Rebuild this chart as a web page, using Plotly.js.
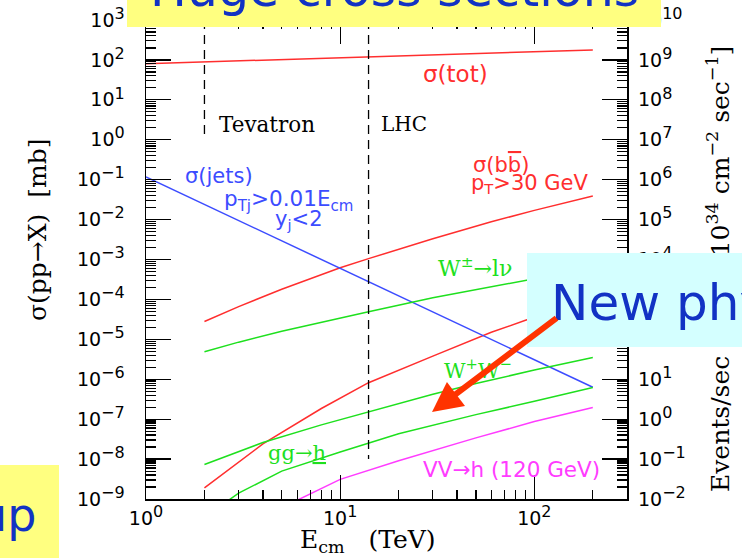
<!DOCTYPE html>
<html>
<head>
<meta charset="utf-8">
<script src="https://cdn.plot.ly/plotly-3.0.1.min.js"></script>
<style>html,body{margin:0;padding:0;background:#fff}</style>
</head>
<body>
<div id="chart" style="width:742px;height:558px"></div>
<script>
// Cross sections sigma(pp -> X) in mb versus collider energy E_cm in TeV
const E_tot = [1, 2, 5, 10, 14, 20, 50, 100, 200];
const sig_tot = [80, 89, 102, 114, 120, 127, 145, 162, 178];

const E_bb = [2, 3, 5, 10, 14, 30, 60, 100, 200];
const sig_bb = [2.8e-5, 6.6e-5, 1.8e-4, 6.2e-4, 1.05e-3, 3.3e-3, 8.8e-3, 1.7e-2, 3.9e-2];

const E_tt = [2, 4, 8, 14, 30, 60, 90, 200];
const sig_tt = [1.9e-9, 2.4e-8, 1.85e-7, 8.2e-7, 3.8e-6, 1.5e-5, 3.0e-5, 1.0e-4];

const E_jets = [1, 2, 14, 50, 200];
const sig_jets = [0.117, 0.024, 2.8e-4, 1.5e-5, 6.3e-7];

const E_W = [2, 3, 5, 10, 14, 30, 60, 92, 200];
const sig_W = [4.9e-6, 8.5e-6, 1.6e-5, 3.5e-5, 4.9e-5, 1.1e-4, 2.1e-4, 3.1e-4, 6.2e-4];

const E_WW = [2, 4, 8, 15, 30, 50, 100, 200];
const sig_WW = [7.3e-9, 2.6e-8, 7.2e-8, 1.7e-7, 4.2e-7, 7.8e-7, 1.7e-6, 3.5e-6];

const E_ggh = [2, 3, 5, 10, 20, 50, 100, 200];
const sig_ggh = [3.5e-10, 1.4e-9, 5.0e-9, 1.5e-8, 4.3e-8, 1.3e-7, 2.8e-7, 6.2e-7];

const E_VVh = [4, 6, 10, 20, 50, 100, 200];
const sig_VVh = [2.8e-10, 9.3e-10, 3.1e-9, 9.1e-9, 3.4e-8, 8.7e-8, 1.95e-7];

// collider energies, drawn as dashed verticals
const colliders = ['Tevatron', 'LHC'];
const colliderE = [2, 14];
const colliderTop = [1e3, 1e3];
const colliderLow = [1.15, 1e-8];

// event rate per second = sigma[mb] * 1e-27 cm^2 * 1e34 cm^-2 s^-1
const lumiFactor = 1e7;

// decade exponents for the tick labels
const sigmaExp = [-9, -8, -7, -6, -5, -4, -3, -2, -1, 0, 1, 2, 3];
const rateExp = [-2, -1, 0, 1, 2, 3, 4, 5, 6, 7, 8, 9, 10];
const energyExp = [0, 1, 2];
const E_max = 300;

const SERIF = 'DejaVu Serif', SANS = 'DejaVu Sans';
const RED = '#ff2e2e', BLUE = '#3c4cff', GREEN = '#1ee01e', MAGENTA = '#ff3cff';
const INK = '#1232c4';

const W = 742, H = 558;
const M = {l: 146, r: 115, t: 20, b: 59};
const pw = W - M.l - M.r, ph = H - M.t - M.b;
const px = X => (X - M.l) / pw;
const py = Y => 1 - (Y - M.t) / ph;

const powLabel = p => '10<sup><span style="font-size:16px">' + (p < 0 ? '\u2212' + (-p) : p) + '</span></sup>';
function minorTicks(lo, hi, max) {
  const v = [];
  for (let p = lo; p <= hi; p++) for (let m = 2; m <= 9; m++) {
    const t = m * Math.pow(10, p);
    if (t < max) v.push(t);
  }
  return v;
}

function curve(x, y, color) {
  return {x, y, type: 'scatter', mode: 'lines', line: {color, width: 1.5}, hoverinfo: 'skip'};
}

const traces = [
  curve(E_tot, sig_tot, RED),
  curve(E_bb, sig_bb, RED),
  curve(E_tt, sig_tt, RED),
  curve(E_jets, sig_jets, BLUE),
  curve(E_W, sig_W, GREEN),
  curve(E_WW, sig_WW, GREEN),
  curve(E_ggh, sig_ggh, GREEN),
  curve(E_VVh, sig_VVh, MAGENTA)
];
colliders.forEach((name, i) => traces.push({
  x: [colliderE[i], colliderE[i]], y: [colliderTop[i], colliderLow[i]],
  type: 'scatter', mode: 'lines', name,
  line: {color: 'black', width: 1.3, dash: '9px,6px'}, hoverinfo: 'skip'
}));
// total rate on the right-hand axis (carries the events/sec scale)
traces.push({
  x: E_tot, y: sig_tot.map(s => s * lumiFactor), yaxis: 'y2',
  type: 'scatter', mode: 'lines', line: {width: 0, color: RED}, opacity: 0, hoverinfo: 'skip'
});

function label(text, X, Y, color, size, family, extra) {
  return Object.assign({
    xref: 'paper', yref: 'paper', x: px(X), y: py(Y),
    xanchor: 'left', yanchor: 'middle', text, showarrow: false,
    font: {color, size, family}, borderpad: 0
  }, extra || {});
}
function box(X0, Y0, X1, Y1, color) {
  return {
    xref: 'paper', yref: 'paper', x: px(X0), y: py(Y0), xanchor: 'left', yanchor: 'top',
    text: ' ', showarrow: false, width: X1 - X0, height: Y1 - Y0,
    bgcolor: color, borderpad: 0, borderwidth: 0
  };
}

const annotations = [
  label('\u03c3(tot)', 422, 74, RED, 23, SANS),
  label('Tevatron', 218, 124, 'black', 21.5, SERIF),
  label('LHC', 380, 124, 'black', 20, SERIF),
  label('\u03c3(jets)', 184, 176, BLUE, 21, SANS),
  label('p<sub>Tj</sub>&gt;0.01E<sub>cm</sub>', 223, 200, BLUE, 21.5, SANS),
  label('y<sub>j</sub>&lt;2', 274, 220, BLUE, 21, SANS),
  label('\u03c3(b<span style="text-decoration:overline">b</span>)', 472, 165, RED, 21, SANS),
  label('p<sub>T</sub>&gt;30 GeV', 470, 184, RED, 21, SANS),
  label('W<sup>\u00b1</sup>\u2192l\u03bd', 437, 267, GREEN, 22, SERIF),
  label('W<sup>+</sup>W<sup>\u2212</sup>', 443, 369, GREEN, 21, SERIF),
  label('gg\u2192<u>h</u>', 267, 453, GREEN, 21, SERIF),
  label('VV\u2192h (120 GeV)', 422, 469, MAGENTA, 21.5, SANS),
  // axis titles
  label('\u03c3(pp\u2192X)  [mb]', 37, 230, 'black', 25, SERIF, {xanchor: 'center', textangle: -90}),
  label('E<sub>cm</sub>   (TeV)', 368, 524, 'black', 25, SERIF, {xanchor: 'center', yanchor: 'top'}),
  label('Events/sec [for L=10<sup>34</sup> cm<sup>\u22122</sup> sec<sup>\u22121</sup>]', 718, 269, 'black', 25, SERIF,
        {xanchor: 'center', textangle: -90}),
  // slide overlays
  box(127, 0, 661, 27, '#ffff80'),
  label('Huge cross sections', 149, 19, INK, 49, SANS, {yanchor: 'bottom'}),
  box(527, 253, 742, 347, '#d4ffff'),
  label('New physics', 550, 303, INK, 50, SANS),
  box(0, 465, 59, 558, '#ffff80'),
  label('up', 37, 515, INK, 46, SANS, {xanchor: 'right'}),
  {xref: 'paper', yref: 'paper', x: px(432), y: py(412), ax: 126, ay: -95,
   text: '', showarrow: true, arrowhead: 2, arrowsize: 1, arrowwidth: 6,
   arrowcolor: '#ff3300', standoff: 0}
];

const axisCommon = {
  type: 'log', showgrid: false, zeroline: false, tickmode: 'array',
  tickfont: {family: SANS, size: 19, color: 'black'}
};

const layout = {
  width: W, height: H, margin: Object.assign({pad: 0}, M),
  paper_bgcolor: 'white', plot_bgcolor: 'white', showlegend: false,
  font: {family: SANS, color: 'black'},
  xaxis: Object.assign({}, axisCommon, {
    range: [0, Math.log10(E_max)],
    showline: true, linecolor: 'black', linewidth: 1.5, mirror: 'ticks',
    ticks: 'inside', ticklen: 24, tickwidth: 1.3, tickcolor: 'black',
    tickvals: energyExp.map(p => Math.pow(10, p)), ticktext: energyExp.map(powLabel),
    minor: {ticks: 'inside', ticklen: 9, tickwidth: 1.2, tickcolor: 'black', tickvals: minorTicks(0, 2, E_max)},
    ticklabelstandoff: 2
  }),
  yaxis: Object.assign({}, axisCommon, {
    range: [sigmaExp[0], sigmaExp[sigmaExp.length - 1]],
    showline: true, linecolor: 'black', linewidth: 1.5, mirror: 'ticks',
    ticks: 'inside', ticklen: 25, tickwidth: 1.3, tickcolor: 'black',
    tickvals: sigmaExp.map(p => Math.pow(10, p)), ticktext: sigmaExp.map(powLabel),
    minor: {ticks: 'inside', ticklen: 10, tickwidth: 1.2, tickcolor: 'black', tickvals: minorTicks(-9, 2, 1e3)},
    ticklabelstandoff: 16
  }),
  yaxis2: Object.assign({}, axisCommon, {
    overlaying: 'y', side: 'right', anchor: 'x',
    range: [rateExp[0], rateExp[rateExp.length - 1]],
    showline: false, ticks: '',
    tickvals: rateExp.map(p => Math.pow(10, p)), ticktext: rateExp.map(powLabel),
    ticklabelstandoff: 10
  }),
  annotations
};

Plotly.newPlot('chart', traces, layout, {staticPlot: true});
</script>
</body>
</html>
